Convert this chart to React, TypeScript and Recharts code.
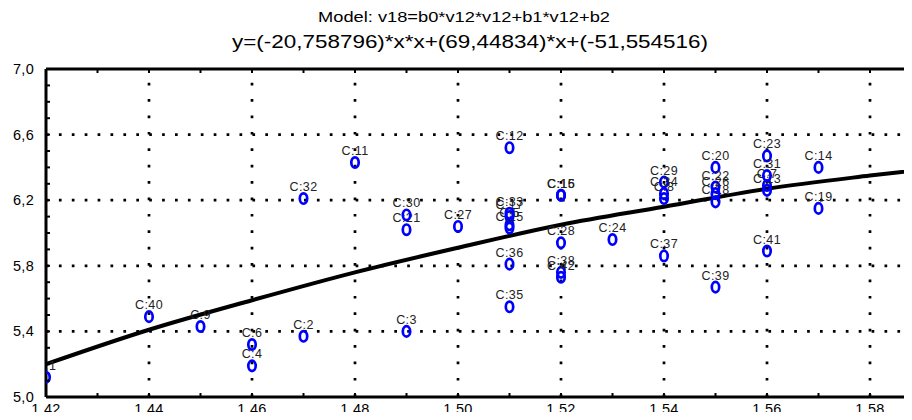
import React from "react";
import {
  ComposedChart,
  Scatter,
  Line,
  XAxis,
  YAxis,
  ReferenceLine,
} from "recharts";

// observations: label, v12 (x), v18 (y)
const POINT_NAMES = [
  "C:1", "C:2", "C:3", "C:4", "C:5", "C:6", "C:7", "C:8", "C:9", "C:10",
  "C:11", "C:12", "C:13", "C:14", "C:15", "C:16", "C:17", "C:18", "C:19", "C:20",
  "C:21", "C:22", "C:23", "C:24", "C:25", "C:26", "C:27", "C:28", "C:29", "C:30",
  "C:31", "C:32", "C:33", "C:34", "C:35", "C:36", "C:37", "C:38", "C:39", "C:40",
  "C:41", "C:42",
];
const POINT_X = [
  1.42, 1.47, 1.49, 1.46, 1.51, 1.46, 1.56, 1.54, 1.45, 1.59,
  1.48, 1.51, 1.56, 1.57, 1.52, 1.52, 1.51, 1.55, 1.57, 1.55,
  1.49, 1.55, 1.56, 1.53, 1.51, 1.55, 1.5, 1.52, 1.54, 1.49,
  1.56, 1.47, 1.51, 1.54, 1.51, 1.51, 1.54, 1.52, 1.55, 1.44,
  1.56, 1.52,
];
const POINT_Y = [
  5.12, 5.37, 5.4, 5.19, 6.05, 5.32, 6.29, 6.21, 5.43, 6.7,
  6.43, 6.52, 6.26, 6.4, 6.23, 6.23, 6.1, 6.19, 6.15, 6.4,
  6.02, 6.28, 6.47, 5.96, 6.03, 6.24, 6.04, 5.94, 6.31, 6.11,
  6.35, 6.21, 6.12, 6.24, 5.55, 5.81, 5.86, 5.76, 5.67, 5.49,
  5.89, 5.73,
];

// fitted curve
const CURVE_X = [1.42, 1.44, 1.46, 1.48, 1.5, 1.52, 1.54, 1.56, 1.58, 1.6];
const CURVE_Y = [5.2, 5.41, 5.59, 5.76, 5.91, 6.05, 6.16, 6.27, 6.35, 6.42];

const X_TICKS = [
  1.42, 1.43, 1.44, 1.45, 1.46, 1.47, 1.48, 1.49, 1.5, 1.51,
  1.52, 1.53, 1.54, 1.55, 1.56, 1.57, 1.58, 1.59, 1.6,
];
const X_GRID = [1.44, 1.46, 1.48, 1.5, 1.52, 1.54, 1.56, 1.58];
const Y_TICKS = [
  5.0, 5.1, 5.2, 5.3, 5.4, 5.5, 5.6, 5.7, 5.8, 5.9, 6.0,
  6.1, 6.2, 6.3, 6.4, 6.5, 6.6, 6.7, 6.8, 6.9, 7.0,
];
const Y_GRID = [5.4, 5.8, 6.2, 6.6];

const TITLE_1 = "Model: v18=b0*v12*v12+b1*v12+b2";
const TITLE_2 = "y=(-20,758796)*x*x+(69,44834)*x+(-51,554516)";

const FONT = "'Liberation Sans', Arial, sans-serif";

const points = POINT_NAMES.map((name, i) => ({ name, x: POINT_X[i], y: POINT_Y[i] }));
const curve = CURVE_X.map((x, i) => ({ x, fit: CURVE_Y[i] }));

const comma = (v: number, d: number) => v.toFixed(d).replace(".", ",");

const BottomTick = (props: any) => {
  const { x, y, payload } = props;
  const v = payload.value;
  const major = Math.round(v * 100) % 2 === 0;
  return (
    <g>
      <line x1={x} x2={x} y1={y} y2={y - 4} stroke="#000" strokeWidth={2} />
      {major && (
        <text x={x} y={y + 17} textAnchor="middle" fontSize={14.5} fontFamily={FONT} fill="#000" letterSpacing={0.3}>
          {comma(v, 2)}
        </text>
      )}
    </g>
  );
};

const TopTick = (props: any) => {
  const { x, y } = props;
  return <line x1={x} x2={x} y1={y} y2={y + 4} stroke="#000" strokeWidth={2} />;
};

const LeftTick = (props: any) => {
  const { x, y, payload } = props;
  const v = payload.value;
  const major = Math.round(v * 10) % 4 === 2;
  return (
    <g>
      <line x1={x} x2={x + 4} y1={y} y2={y} stroke="#000" strokeWidth={2} />
      {major && (
        <text x={x - 12} y={y + 5} textAnchor="end" fontSize={14.5} fontFamily={FONT} fill="#000" letterSpacing={0.3}>
          {comma(v, 1)}
        </text>
      )}
    </g>
  );
};

const PointShape = (props: any) => {
  const { cx, cy, payload } = props;
  return (
    <g>
      <ellipse cx={cx} cy={cy} rx={3.7} ry={5.2} fill="none" stroke="#0000ff" strokeWidth={2.7} />
      <text x={cx} y={cy - 7.5} textAnchor="middle" fontSize={12.5} fontFamily={FONT} fill="#222" letterSpacing={0.4}>
        {payload.name}
      </text>
    </g>
  );
};

export default function App() {
  return (
    <div style={{ position: "relative", width: 912, height: 420, overflow: "hidden", margin: -8, background: "#fff" }}>
      <ComposedChart
        width={980}
        height={420}
        data={curve}
        margin={{ top: 68, right: 7, left: 6, bottom: 0 }}
      >
        <XAxis
          xAxisId="top"
          orientation="top"
          type="number"
          dataKey="x"
          domain={[1.42, 1.6]}
          ticks={X_TICKS}
          interval={0}
          height={1}
          tickSize={0}
          tickMargin={0}
          tick={<TopTick />}
          axisLine={{ stroke: "#000", strokeWidth: 3 }}
          allowDataOverflow
        />
        <XAxis
          type="number"
          dataKey="x"
          domain={[1.42, 1.6]}
          ticks={X_TICKS}
          interval={0}
          height={23}
          tickSize={0}
          tickMargin={0}
          tick={<BottomTick />}
          axisLine={{ stroke: "#000", strokeWidth: 3 }}
          allowDataOverflow
        />
        <YAxis
          type="number"
          domain={[5, 7]}
          ticks={Y_TICKS}
          interval={0}
          width={40}
          tickSize={0}
          tickMargin={0}
          tick={<LeftTick />}
          axisLine={{ stroke: "#000", strokeWidth: 3 }}
          allowDataOverflow
        />
        {X_GRID.map((v) => (
          <ReferenceLine key={"gx" + v} x={v} stroke="#000" strokeWidth={2.7} strokeDasharray="2.7 13.7" />
        ))}
        {Y_GRID.map((v) => (
          <ReferenceLine key={"gy" + v} y={v} stroke="#000" strokeWidth={2.7} strokeDasharray="2.7 10.2" />
        ))}
        <Line
          dataKey="fit"
          type="monotone"
          stroke="#000"
          strokeWidth={4}
          dot={false}
          activeDot={false}
          isAnimationActive={false}
        />
        <Scatter
          data={points}
          dataKey="y"
          shape={<PointShape />}
          isAnimationActive={false}
        />
      </ComposedChart>
      <svg
        width={912}
        height={60}
        style={{ position: "absolute", left: 0, top: 0, pointerEvents: "none" }}
      >
        <text
          x={464}
          y={22}
          textAnchor="middle"
          fontSize={14}
          fontFamily={FONT}
          fill="#000"
          textLength={292}
          lengthAdjust="spacingAndGlyphs"
        >
          {TITLE_1}
        </text>
        <text
          x={470}
          y={48}
          textAnchor="middle"
          fontSize={19}
          fontFamily={FONT}
          fill="#000"
          textLength={476}
          lengthAdjust="spacingAndGlyphs"
        >
          {TITLE_2}
        </text>
      </svg>
    </div>
  );
}
